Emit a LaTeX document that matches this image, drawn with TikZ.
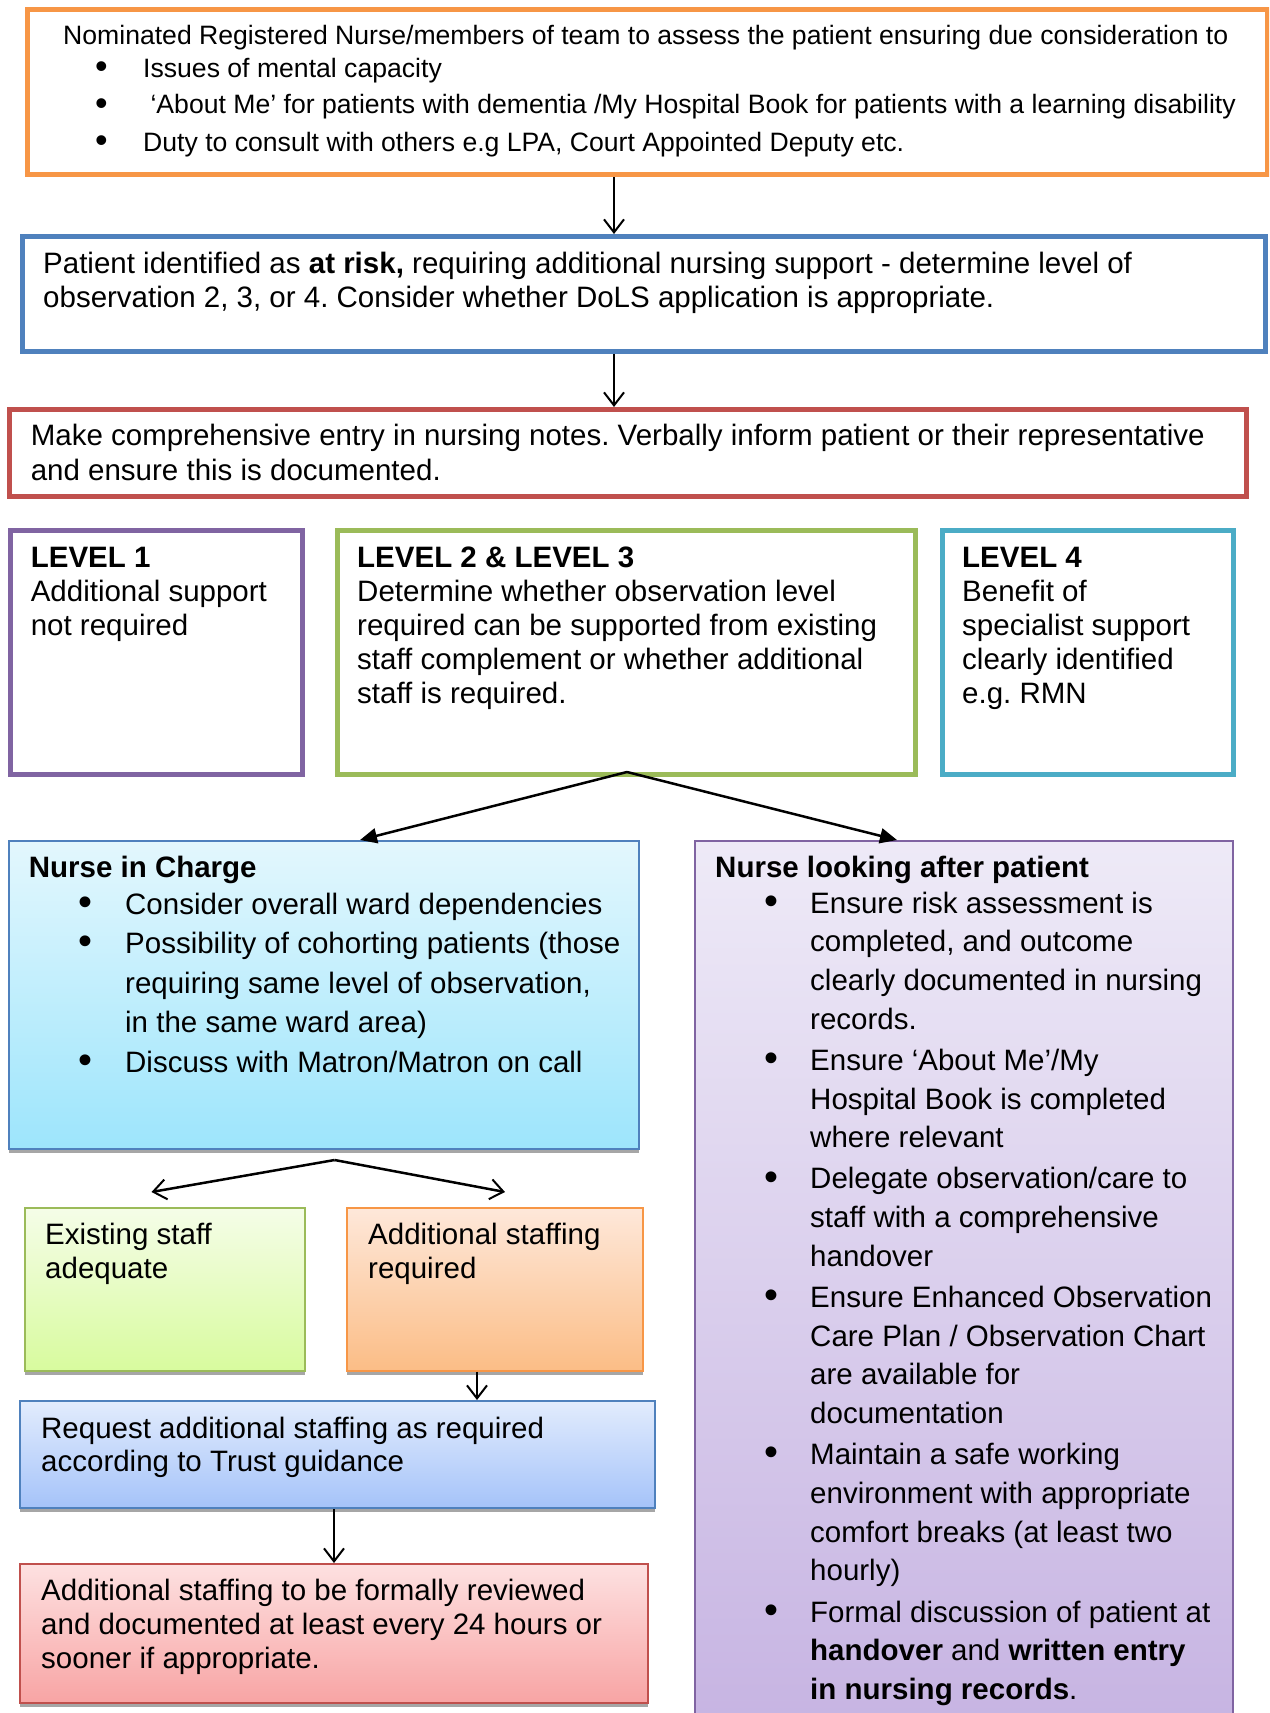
\documentclass[tikz,border=0pt]{standalone}
\usepackage{graphicx}
\usepackage{fontspec}
\setmainfont{Liberation Sans}
\usetikzlibrary{arrows.meta,shadows}
\frenchspacing
\definecolor{cOr}{HTML}{F79646}
\definecolor{cBl}{HTML}{4F81BD}
\definecolor{cRd}{HTML}{C0504D}
\definecolor{cPu}{HTML}{8064A2}
\definecolor{cGr}{HTML}{9BBB59}
\definecolor{cTe}{HTML}{4BACC6}
\definecolor{nicTop}{HTML}{E3F7FD}
\definecolor{nicBot}{HTML}{9DE5FC}
\definecolor{nlTop}{HTML}{EEEAF7}
\definecolor{nlBot}{HTML}{C6B3E2}
\definecolor{exTop}{HTML}{F5FDE8}
\definecolor{exBot}{HTML}{D8FB9E}
\definecolor{adTop}{HTML}{FEE8DA}
\definecolor{adBot}{HTML}{FBBD86}
\definecolor{rqTop}{HTML}{E2ECFD}
\definecolor{rqBot}{HTML}{A5C3F9}
\definecolor{rvTop}{HTML}{FDE1E1}
\definecolor{rvBot}{HTML}{F8A4A4}
\newcommand\TBLK[2]{\vtop{\baselineskip=#1\relax\lineskiplimit=-1000pt\relax\lineskip=0pt\relax #2}}
\newcommand\PL[1]{\hbox{#1}}
\newcommand\BUL{\raisebox{-0.04em}{\scalebox{1.35}{\textbullet}}}
\newcommand\BL[3]{\hbox{\rlap{\hskip#1\relax\BUL}\hskip#2\relax #3}}
\newcommand\CL[2]{\hbox{\hskip#1\relax #2}}
\tikzset{
  topbox/.style={draw, line width=5pt, fill=white, inner sep=0pt, anchor=north west},
  gbox/.style={draw, line width=2pt, inner sep=0pt, anchor=north west,
    general shadow={fill=black!35, shadow yshift=-4pt}},
  txt/.style={anchor=base west, inner sep=0pt, font=\fontsize{29.5}{34}\selectfont\frenchspacing},
  smalltxt/.style={anchor=base west, inner sep=0pt, font=\fontsize{26.6}{37}\selectfont\frenchspacing},
  arr/.style={line width=2pt, -{Straight Barb[length=13pt,width=20pt,line width=2pt]}},
  farr/.style={line width=2.5pt, -{Triangle[length=17pt,width=15pt]}},
}
\begin{document}
\begin{tikzpicture}[x=1pt,y=-1pt]
\useasboundingbox (0,0) rectangle (1269,1713);
\fill[white] (0,0) rectangle (1269,1713);
\clip (0,0) rectangle (1269,1713);

% boxes
\node[topbox, draw=cOr, minimum width=1240pt, minimum height=165pt] (orange) at (24.5,7.3) {};
\node[topbox, draw=cBl, minimum width=1243.4pt, minimum height=115pt] (blue) at (19.6,234) {};
\node[topbox, draw=cRd, minimum width=1236.7pt, minimum height=87pt] (red) at (7.3,407) {};
\node[topbox, draw=cPu, minimum width=292pt, minimum height=244pt] (lone) at (8,528) {};
\node[topbox, draw=cGr, minimum width=578pt, minimum height=244pt] (ltwo) at (335,528) {};
\node[topbox, draw=cTe, minimum width=291pt, minimum height=244pt] (lfour) at (940,528) {};
\node[gbox, draw=cBl, top color=nicTop, bottom color=nicBot, minimum width=630.4pt, minimum height=308pt] (nic) at (7.6,840) {};
\node[gbox, draw=cPu, top color=nlTop, bottom color=nlBot, minimum width=538pt, minimum height=900pt] (nlap) at (693.5,840) {};
\node[gbox, draw=cGr, top color=exTop, bottom color=exBot, minimum width=280pt, minimum height=163pt] (exist) at (24,1206.5) {};
\node[gbox, draw=cOr, top color=adTop, bottom color=adBot, minimum width=296pt, minimum height=163pt] (addl) at (346,1206.5) {};
\node[gbox, draw=cBl, top color=rqTop, bottom color=rqBot, minimum width=634.2pt, minimum height=107pt] (req) at (19.4,1400) {};
\node[gbox, draw=cRd, top color=rvTop, bottom color=rvBot, minimum width=627.6pt, minimum height=139pt] (rev) at (19.4,1563) {};

% texts
\node[smalltxt] (t-orange) at (63,44) {\TBLK{37pt}{%
  \PL{Nominated Registered Nurse/members of team to assess the patient ensuring due consideration to}\vskip-4pt
  \BL{32pt}{80pt}{Issues of mental capacity}
  \BL{32pt}{80pt}{\ ‘About Me’ for patients with dementia /My Hospital Book for patients with a learning disability}
  \BL{32pt}{80pt}{Duty to consult with others e.g LPA, Court Appointed Deputy etc.}}};
\node[txt] (t-blue) at (43,273) {\TBLK{34pt}{%
  \PL{Patient identified as \textbf{at risk,} requiring additional nursing support - determine level of}
  \PL{observation 2, 3, or 4. Consider whether DoLS application is appropriate.}}};
\node[txt] (t-red) at (30.6,445) {\TBLK{35pt}{%
  \PL{Make comprehensive entry in nursing notes. Verbally inform patient or their representative}
  \PL{and ensure this is documented.}}};
\node[txt] (t-lone) at (30.6,567) {\TBLK{34pt}{%
  \PL{\textbf{LEVEL 1}}
  \PL{Additional support}
  \PL{not required}}};
\node[txt] (t-ltwo) at (357,567) {\TBLK{34pt}{%
  \PL{\textbf{LEVEL 2 \& LEVEL 3}}
  \PL{Determine whether observation level}
  \PL{required can be supported from existing}
  \PL{staff complement or whether additional}
  \PL{staff is required.}}};
\node[txt] (t-lfour) at (962,567) {\TBLK{34pt}{%
  \PL{\textbf{LEVEL 4}}
  \PL{Benefit of}
  \PL{specialist support}
  \PL{clearly identified}
  \PL{e.g. RMN}}};
\node[txt] (t-nic) at (28.6,877) {\TBLK{39.5pt}{%
  \PL{\textbf{Nurse in Charge}}\vskip-2.5pt
  \BL{49.5pt}{96.4pt}{Consider overall ward dependencies}
  \BL{49.5pt}{96.4pt}{Possibility of cohorting patients (those}
  \CL{96.4pt}{requiring same level of observation,}
  \CL{96.4pt}{in the same ward area)}
  \BL{49.5pt}{96.4pt}{Discuss with Matron/Matron on call}}};
\node[txt] (t-nlap) at (715,877) {\TBLK{38.7pt}{%
  \PL{\textbf{Nurse looking after patient}}\vskip-2.7pt
  \BL{49pt}{95pt}{Ensure risk assessment is}
  \CL{95pt}{completed, and outcome}
  \CL{95pt}{clearly documented in nursing}
  \CL{95pt}{records.}\vskip2.5pt
  \BL{49pt}{95pt}{Ensure ‘About Me’/My}
  \CL{95pt}{Hospital Book is completed}
  \CL{95pt}{where relevant}\vskip2.5pt
  \BL{49pt}{95pt}{Delegate observation/care to}
  \CL{95pt}{staff with a comprehensive}
  \CL{95pt}{handover}\vskip2.5pt
  \BL{49pt}{95pt}{Ensure Enhanced Observation}
  \CL{95pt}{Care Plan / Observation Chart}
  \CL{95pt}{are available for}
  \CL{95pt}{documentation}\vskip2.5pt
  \BL{49pt}{95pt}{Maintain a safe working}
  \CL{95pt}{environment with appropriate}
  \CL{95pt}{comfort breaks (at least two}
  \CL{95pt}{hourly)}\vskip2.5pt
  \BL{49pt}{95pt}{Formal discussion of patient at}
  \CL{95pt}{\textbf{handover} and \textbf{written entry}}
  \CL{95pt}{\textbf{in nursing records}.}}};
\node[txt] (t-exist) at (45,1244) {\TBLK{34pt}{%
  \PL{Existing staff}
  \PL{adequate}}};
\node[txt] (t-addl) at (368,1244) {\TBLK{34pt}{%
  \PL{Additional staffing}
  \PL{required}}};
\node[txt] (t-req) at (41,1438) {\TBLK{33pt}{%
  \PL{Request additional staffing as required}
  \PL{according to Trust guidance}}};
\node[txt] (t-rev) at (41,1600) {\TBLK{34pt}{%
  \PL{Additional staffing to be formally reviewed}
  \PL{and documented at least every 24 hours or}
  \PL{sooner if appropriate.}}};

% connectors
\coordinate (cxa) at (614,0);
\draw[arr] (cxa |- orange.south) -- (cxa |- blue.north);
\draw[arr] (cxa |- blue.south) -- (cxa |- red.north);
\coordinate (cxnic) at (360,0);
\coordinate (cxnl) at (897,0);
\coordinate (ltwofoot) at (627,772);
\draw[farr] (ltwofoot) -- (cxnic |- nic.north);
\draw[farr] (ltwofoot) -- (cxnl |- nlap.north);
\coordinate (fork) at (334.6,1160);
\coordinate (forkl) at (151.5,1192);
\coordinate (forkr) at (505,1192);
\draw[arr, line width=2.5pt] (fork) -- (forkr);
\draw[arr, line width=2.5pt] (fork) -- (forkl);
\coordinate (cxad) at (477,0);
\draw[arr] (cxad |- addl.south) -- (cxad |- req.north);
\coordinate (cxrq) at (334,0);
\draw[arr] (cxrq |- req.south) -- (cxrq |- rev.north);
\end{tikzpicture}
\end{document}
